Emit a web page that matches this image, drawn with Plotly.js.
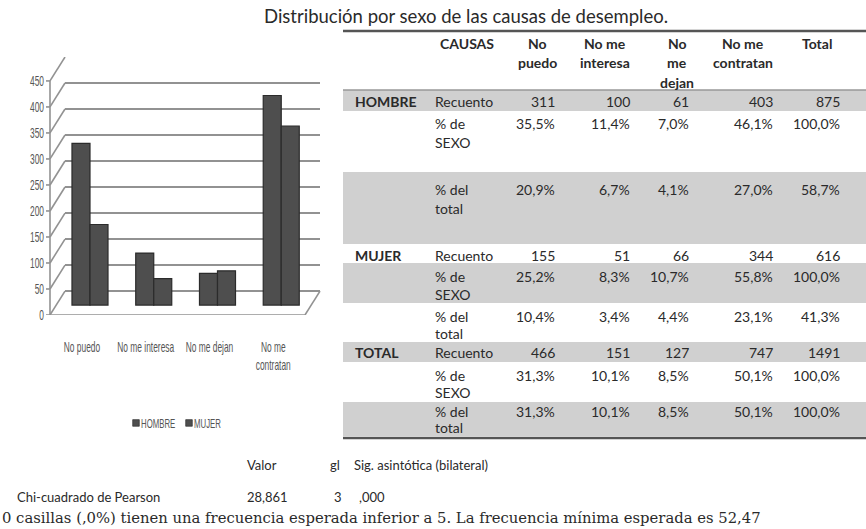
<!DOCTYPE html>
<html><head><meta charset="utf-8">
<script src="https://cdn.plot.ly/plotly-3.0.1.min.js"></script>
<style>html,body{margin:0;padding:0;background:#fff}#chart{width:866px;height:529px}</style>
</head><body><div id="chart"></div>
<script>
// ---------- data ----------
const titulo = "Distribución por sexo de las causas de desempleo.";
const causas = ["No puedo", "No me interesa", "No me dejan", "No me contratan"];
const causasTick = ["No puedo", "No me interesa", "No me dejan", "No me<br>contratan"];
const series = ["HOMBRE", "MUJER"];
const hombre = [311, 100, 61, 403];
const mujer = [155, 51, 66, 344];
const totalCausa = [466, 151, 127, 747];
const totalSexo = [875, 616, 1491];
const yTicks = [0, 50, 100, 150, 200, 250, 300, 350, 400, 450];

const encabezado = [["No", "puedo"], ["No me", "interesa"], ["No", "me", "dejan"], ["No me", "contratan"], ["Total"]];
const hombrePctSexo = ["35,5%", "11,4%", "7,0%", "46,1%", "100,0%"];
const hombrePctTotal = ["20,9%", "6,7%", "4,1%", "27,0%", "58,7%"];
const mujerPctSexo = ["25,2%", "8,3%", "10,7%", "55,8%", "100,0%"];
const mujerPctTotal = ["10,4%", "3,4%", "4,4%", "23,1%", "41,3%"];
const totalPctSexo = ["31,3%", "10,1%", "8,5%", "50,1%", "100,0%"];
const totalPctTotal = ["31,3%", "10,1%", "8,5%", "50,1%", "100,0%"];

const pruebaCab = ["Valor", "gl", "Sig. asintótica (bilateral)"];
const pruebaFila = ["Chi-cuadrado de Pearson", "28,861", "3", ",000"];
const nota = "0 casillas (,0%) tienen una frecuencia esperada inferior a 5. La frecuencia mínima esperada es 52,47";

// ---------- helpers ----------
const W = 866, H = 529;
const px = x => x / W;
const py = y => 1 - y / H;
const ann = [];
const shp = [];
const tFont = {family: "Lato, 'Open Sans', sans-serif", size: 14, color: "#2a2a2a"};
function txt(t, x, y, anchor, opts) {
  ann.push(Object.assign({text: t, x: px(x), y: py(y), xref: "paper", yref: "paper",
    xanchor: anchor, yanchor: "middle", showarrow: false, font: tFont}, opts || {}));
}
const bold = Object.assign({}, tFont, {weight: 700});

// ---------- chart geometry ----------
const backL = 65, backR = 320, frontL = 50;
const plotTop = 57, plotBot = 315;
const depthUnits = 46; // front/back offset in y units (~24px)

// ---------- traces ----------
const gray = "#4e4e4e";
const traces = [
  {type: "bar", name: series[0], x: causas, y: hombre, xaxis: "x", yaxis: "y2",
   marker: {color: gray, line: {color: "#2b2b2b", width: 1.2}}},
  {type: "bar", name: series[1], x: causas, y: mujer, xaxis: "x", yaxis: "y2",
   marker: {color: gray, line: {color: "#2b2b2b", width: 1.2}}}
];

// ---------- 3D frame shapes ----------
const lineC = "#929292", lineW = 1.6;
shp.push({type: "line", xref: "paper", yref: "y", x0: px(frontL), x1: px(frontL),
  y0: -depthUnits, y1: yTicks[yTicks.length - 1] - depthUnits, line: {color: lineC, width: lineW}});
yTicks.forEach(v => {
  shp.push({type: "line", xref: "paper", yref: "y", x0: px(frontL), x1: px(backL),
    y0: v - depthUnits, y1: v, line: {color: lineC, width: lineW}});
  shp.push({type: "line", xref: "paper", yref: "y", x0: px(frontL - 4), x1: px(frontL),
    y0: v - depthUnits, y1: v - depthUnits, line: {color: lineC, width: lineW}});
});
const frontR = frontL + (backR - backL);
shp.push({type: "line", xref: "paper", yref: "y", x0: px(frontL), x1: px(frontR),
  y0: -depthUnits, y1: -depthUnits, line: {color: lineC, width: lineW}});
shp.push({type: "line", xref: "paper", yref: "y", x0: px(frontR), x1: px(backR),
  y0: -depthUnits, y1: 0, line: {color: lineC, width: lineW}});
causas.forEach((c, i) => {
  const xx = frontL + (i + 1) * (backR - backL) / causas.length;
  shp.push({type: "line", xref: "paper", yref: "y", x0: px(xx), x1: px(xx),
    y0: -depthUnits, y1: -depthUnits - 9, line: {color: lineC, width: lineW}});
});

// ---------- table ----------
const tL = 343, tR = 866;
[[90, 111], [172, 244], [263, 303], [342, 362], [402, 436]].forEach(b => {
  shp.push({type: "rect", xref: "paper", yref: "paper", x0: px(tL), x1: px(tR), y0: py(b[0]), y1: py(b[1]),
    fillcolor: "#d0d0d0", line: {width: 0}, layer: "below"});
});
shp.push({type: "line", xref: "paper", yref: "paper", x0: px(tL), x1: px(tR), y0: py(31), y1: py(31), line: {color: "#555", width: 2.5}});
shp.push({type: "line", xref: "paper", yref: "paper", x0: px(tL), x1: px(tR), y0: py(90), y1: py(90), line: {color: "#999", width: 1.5}});
shp.push({type: "line", xref: "paper", yref: "paper", x0: px(tL), x1: px(tR), y0: py(438), y1: py(438), line: {color: "#555", width: 2.5}});

const colC = [537, 605, 677, 743, 817];
const colR = [557, 632, 691, 775, 842];
const hdrY = [43, 62, 82];
txt("CAUSAS", 438, hdrY[0], "left", {font: bold});
encabezado.forEach((lines, j) => lines.forEach((l, k) => txt(l, colC[j], hdrY[k], "center", {font: bold})));

const filas = [
  {g: "HOMBRE", lab: ["Recuento"], v: hombre.concat([totalSexo[0]]), y: [101]},
  {lab: ["% de", "SEXO"], v: hombrePctSexo, y: [123, 142]},
  {lab: ["% del", "total"], v: hombrePctTotal, y: [189, 208]},
  {g: "MUJER", lab: ["Recuento"], v: mujer.concat([totalSexo[1]]), y: [256]},
  {lab: ["% de", "SEXO"], v: mujerPctSexo, y: [276, 294]},
  {lab: ["% del", "total"], v: mujerPctTotal, y: [316, 333]},
  {g: "TOTAL", lab: ["Recuento"], v: totalCausa.concat([totalSexo[2]]), y: [352]},
  {lab: ["% de", "SEXO"], v: totalPctSexo, y: [375, 392]},
  {lab: ["% del", "total"], v: totalPctTotal, y: [411, 427]}
];
filas.forEach(f => {
  if (f.g) txt(f.g, 353, f.y[0], "left", {font: bold});
  f.lab.forEach((l, k) => txt(l, 433, f.y[k], "left"));
  f.v.forEach((val, j) => txt(String(val), colR[j], f.y[0], "right"));
});

// title
txt(titulo, 466, 16, "center", {font: Object.assign({}, tFont, {size: 18.5})});

// chi-square block
const sFont = Object.assign({}, tFont, {size: 13});
txt(pruebaCab[0], 245, 465, "left", {font: sFont});
txt(pruebaCab[1], 328, 465, "left", {font: sFont});
txt(pruebaCab[2], 352, 465, "left", {font: sFont});
txt(pruebaFila[0], 15, 497, "left", {font: sFont});
txt(pruebaFila[1], 245, 497, "left", {font: sFont});
txt(pruebaFila[2], 332, 497, "left", {font: sFont});
txt(pruebaFila[3], 357, 497, "left", {font: sFont});
txt(nota, 0, 517, "left", {font: {family: "'DejaVu Serif', serif", size: 14.8, color: "#2a2a2a"}});

// ---------- layout ----------
const narrow = {family: "'Liberation Sans', Arial, sans-serif", size: 14, color: "#555"};
const layout = {
  width: W, height: H,
  margin: {l: 0, r: 0, t: 0, b: 0},
  paper_bgcolor: "#fff", plot_bgcolor: "rgba(0,0,0,0)",
  showlegend: true,
  legend: {orientation: "h", x: px(116), y: py(408), xanchor: "left", yanchor: "top",
    font: Object.assign({}, narrow, {size: 13}), itemwidth: 30, entrywidth: 8, entrywidthmode: "pixels",
    bgcolor: "rgba(0,0,0,0)"},
  barmode: "group", bargap: 0.435, bargroupgap: 0,
  xaxis: {domain: [px(backL), px(backR)], type: "category", categoryorder: "array", categoryarray: causas,
    range: [-0.392, 3.608], showgrid: false, zeroline: false, showline: false, ticks: "",
    tickmode: "array", tickvals: causas, ticktext: causasTick, tickfont: narrow, tickangle: 0,
    ticklabelshift: -8, ticklabelstandoff: 22, fixedrange: true},
  yaxis: {domain: [py(plotBot), py(plotTop)], range: [-depthUnits, 450], tickmode: "array", tickvals: yTicks,
    showgrid: true, gridcolor: lineC, gridwidth: lineW, zeroline: false, showline: false, ticks: "",
    tickfont: narrow, ticklabelshift: 24, ticklabelstandoff: 20, fixedrange: true},
  yaxis2: {overlaying: "y", range: [-19, 477], visible: false, fixedrange: true},
  shapes: shp,
  annotations: ann
};
Plotly.newPlot("chart", traces, layout, {displayModeBar: false, staticPlot: true}).then(gd => {
  // condensed look of the chart's labels (as in the original)
  const s = 0.6;
  gd.querySelectorAll(".xtick text, .ytick text, .legendtext").forEach(t => {
    const x = parseFloat(t.getAttribute("x")) || 0;
    const tr = t.getAttribute("transform") || "";
    const dx = t.classList.contains("legendtext") ? -15 : 0;
    t.setAttribute("transform", tr + " translate(" + (x + dx) + ",0) scale(" + s + ",1) translate(" + (-x) + ",0)");
  });
  // small legend squares, no clipping of the compact legend
  gd.querySelectorAll(".legend .legendpoints path").forEach(p => {
    p.setAttribute("transform", (p.getAttribute("transform") || "") + " scale(0.55)");
  });
  gd.querySelectorAll(".legend [clip-path]").forEach(el => el.removeAttribute("clip-path"));
});
</script>
</body></html>
